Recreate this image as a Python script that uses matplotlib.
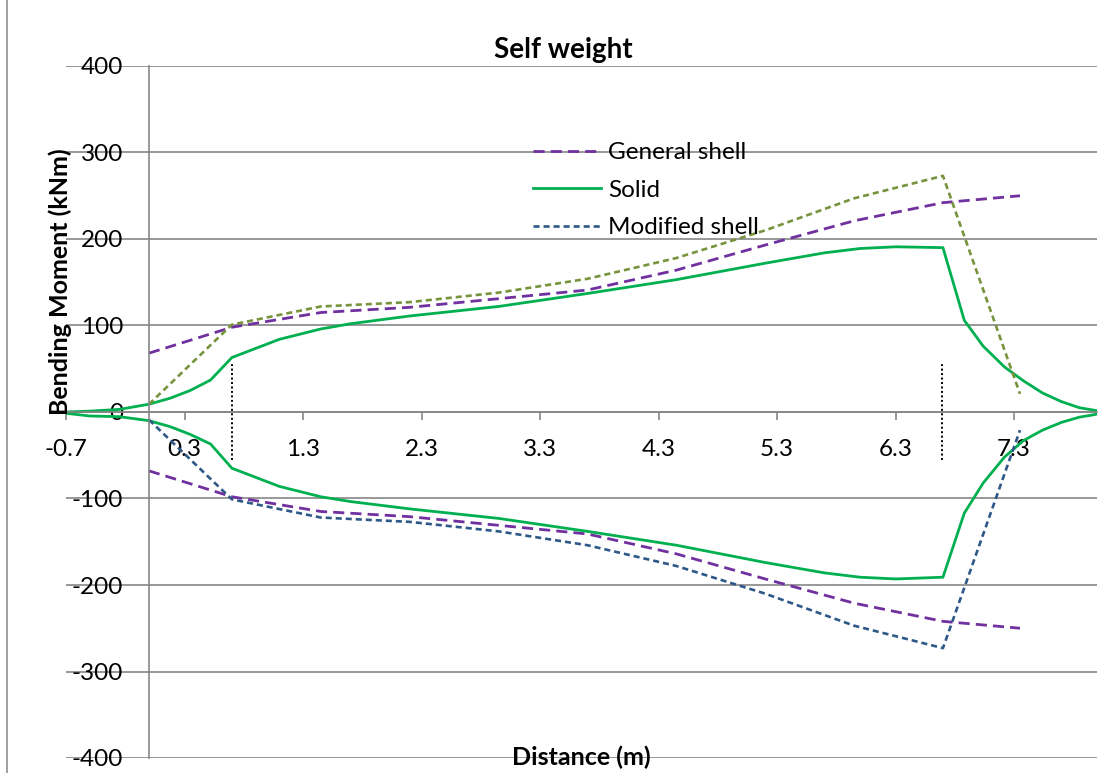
import numpy as np
import matplotlib
matplotlib.use("Agg")
import matplotlib.pyplot as plt
from matplotlib.lines import Line2D

plt.rcParams['font.family'] = ['Lato', 'DejaVu Sans']
plt.rcParams['axes.unicode_minus'] = False

# shell results (same stations for both shell models)
shell_x = [0, 0.7, 1.45, 2.2, 2.95, 3.7, 4.45, 5.2, 5.95, 6.7, 7.35]
general_shell = [68, 98, 115, 121, 131, 141, 164, 193, 221, 242, 250]
modified_shell = [9, 101, 122, 127, 138, 154, 178, 210, 247, 273, 21]

# solid model
solid_x = [-0.7, -0.5, -0.25, 0, 0.18, 0.35, 0.52, 0.7, 1.1, 1.45, 1.7, 2.2,
           2.95, 3.7, 4.45, 5.2, 5.7, 6.0, 6.3, 6.7, 6.88, 7.04, 7.22, 7.38,
           7.54, 7.7, 7.85, 8.0]
solid_top = [0, 1, 3, 9, 16, 25, 37, 63, 84, 96, 102, 111,
             122, 137, 153, 172, 184, 189, 191, 190, 106, 76, 52, 36,
             22, 12, 5, 1.5]
solid_bot = [-1.5, -4.6, -5.4, -10, -17, -26, -37, -65, -86, -98, -103.5, -112,
             -123, -138, -154, -174, -186, -191, -193, -191, -117, -82, -52, -33,
             -21, -12, -6, -2.5]

# column faces
support_x = [0.7, 6.69]
support_h = 55

x_ticks = [-0.7, 0.3, 1.3, 2.3, 3.3, 4.3, 5.3, 6.3, 7.3]
x_tick_labels = ['-0.7', '0.3', '1.3', '2.3', '3.3', '4.3', '5.3', '6.3', '7.3']
y_ticks = [-400, -300, -200, -100, 0, 100, 200, 300, 400]

purple = '#7030A0'
green = '#00B050'
blue = '#2E5888'
olive = '#77933C'
grey = '#868686'

W, H = 1118, 773
fig = plt.figure(figsize=(W / 100, H / 100), dpi=100)
ax = fig.add_axes([66 / W, 1 - 758 / H, (1097 - 66) / W, (758 - 66) / H])

neg = lambda v: [-a for a in v]

l_gen, = ax.plot(shell_x, general_shell, color=purple, lw=2.0, dashes=(4.0, 2.2), label='General shell')
ax.plot(shell_x, neg(general_shell), color=purple, lw=2.0, dashes=(4.0, 2.2))
l_sol, = ax.plot(solid_x, solid_top, color=green, lw=2.0, label='Solid')
ax.plot(solid_x, solid_bot, color=green, lw=2.0)
l_mod, = ax.plot(shell_x, neg(modified_shell), color=blue, lw=1.9, dashes=(2.3, 1.5), label='Modified shell')
ax.plot(shell_x, modified_shell, color=olive, lw=1.9, dashes=(2.3, 1.5))

for sx in support_x:
    ax.plot([sx, sx], [-support_h, support_h], color='black', lw=1.4, linestyle=(0, (1, 1.3)))

ax.set_xlim(-0.7, 8.0)
ax.set_ylim(-400, 400)
ax.set_xticks(x_ticks)
ax.set_xticklabels(x_tick_labels)
ax.set_yticks(y_ticks)
ax.set_yticklabels([str(v) for v in y_ticks])

for s in ['top', 'right']:
    ax.spines[s].set_visible(False)
ax.spines['left'].set_position(('data', 0))
ax.spines['bottom'].set_position(('data', 0))
for s in ['left', 'bottom']:
    ax.spines[s].set_color(grey)
    ax.spines[s].set_linewidth(1.2)

ax.yaxis.grid(True, color=grey, lw=1.2)
ax.set_axisbelow(True)
ax.tick_params(axis='x', direction='out', length=5.8, width=1.2, color=grey, labelsize=17.5, pad=14)
ax.tick_params(axis='y', length=0, labelsize=17.5, pad=18.5)

fig.text(563 / W, 1 - 50 / H, 'Self weight', ha='center', va='center', fontsize=20, fontweight='bold')
fig.text(581 / W, 1 - 757 / H, 'Distance (m)', ha='center', va='center', fontsize=18, fontweight='bold')
fig.text(60 / W, 1 - 282 / H, 'Bending Moment (kNm)', ha='center', va='center', rotation=90,
         fontsize=18, fontweight='bold')

ax.legend(handles=[l_gen, l_sol, l_mod], loc='upper left', bbox_to_anchor=(533 / W, 1 - 142 / H),
          bbox_transform=fig.transFigure, frameon=False, fontsize=17.5, handlelength=2.8,
          handletextpad=0.29, labelspacing=0.68, borderpad=0, borderaxespad=0)

fig.add_artist(Line2D([7 / W, 7 / W], [0, 1], color=grey, lw=1.1, transform=fig.transFigure))

fig.savefig('out.png', dpi=100)
